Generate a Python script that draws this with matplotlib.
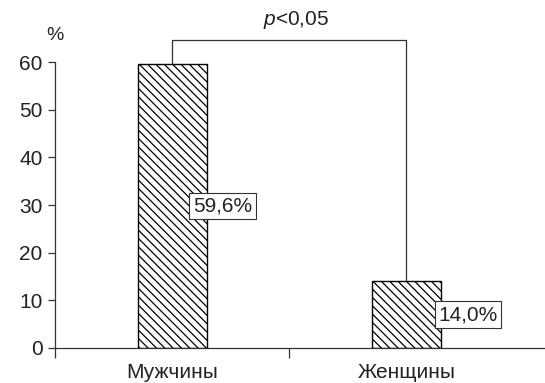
"""
Bar chart of the share of men and women, with hatched bars and a significance bracket.
"""
import matplotlib
matplotlib.use("Agg")
import matplotlib.pyplot as plt

plt.rcParams['font.family'] = ['Liberation Sans', 'DejaVu Sans']
plt.rcParams['mathtext.fontset'] = 'custom'
plt.rcParams['mathtext.rm'] = 'Liberation Sans'
plt.rcParams['mathtext.it'] = 'Liberation Sans:italic'
plt.rcParams['hatch.linewidth'] = 0.9

groups = ["Мужчины", "Женщины"]
values = [59.6, 14.0]
value_labels = ["59,6%", "14,0%"]
label_shift = [0.216, 0.263]
y_ticks = [0, 10, 20, 30, 40, 50, 60]
p_text = "$p$<0,05"

text_color = "#222222"
line_color = "#333333"

fig = plt.figure(figsize=(5.45, 3.83), dpi=100)
ax = fig.add_axes([0.101, 0.0914, 0.899, 0.7467])

x = list(range(len(groups)))
ax.bar(x, values, width=0.295, color="white", edgecolor="black",
       hatch="\\\\\\\\", linewidth=1.0)

# value boxes, placed at half the bar height
for xi, v, lab, dx in zip(x, values, value_labels, label_shift):
    ax.text(xi + dx, v / 2, lab, ha="center", va="center", fontsize=15,
            color=text_color, zorder=5,
            bbox=dict(boxstyle="square,pad=0.18", facecolor="white",
                      edgecolor=line_color, linewidth=0.8))

# significance bracket between the two bars
top = 64.6
ax.plot([x[0], x[0], x[1], x[1]], [values[0], top, top, values[1]],
        color=line_color, linewidth=0.9, clip_on=False)
ax.text(0.528, 68.9, p_text, ha="center", va="center", fontsize=15,
        color=text_color, clip_on=False)
ax.text(-0.5, 65.6, "%", ha="center", va="center", fontsize=14,
        color=text_color, clip_on=False)

ax.set_xlim(-0.5, 1.592)
ax.set_ylim(0, 60)
ax.set_yticks(y_ticks)
ax.tick_params(axis="y", direction="out", length=5, width=0.9,
               colors=line_color, labelcolor=text_color, labelsize=15, pad=4)

# group boundaries as major ticks, group names on minor ticks
ax.set_xticks([-0.5, 0.5])
ax.set_xticklabels([])
ax.set_xticks(x, minor=True)
ax.set_xticklabels(groups, minor=True)
ax.tick_params(axis="x", which="major", direction="out", length=7.2,
               width=0.9, colors=line_color)
ax.tick_params(axis="x", which="minor", length=0, labelsize=15,
               labelcolor=text_color, pad=11)

for side in ["top", "right"]:
    ax.spines[side].set_visible(False)
for side in ["left", "bottom"]:
    ax.spines[side].set_color(line_color)
    ax.spines[side].set_linewidth(0.9)

fig.savefig("out.png", dpi=100)
